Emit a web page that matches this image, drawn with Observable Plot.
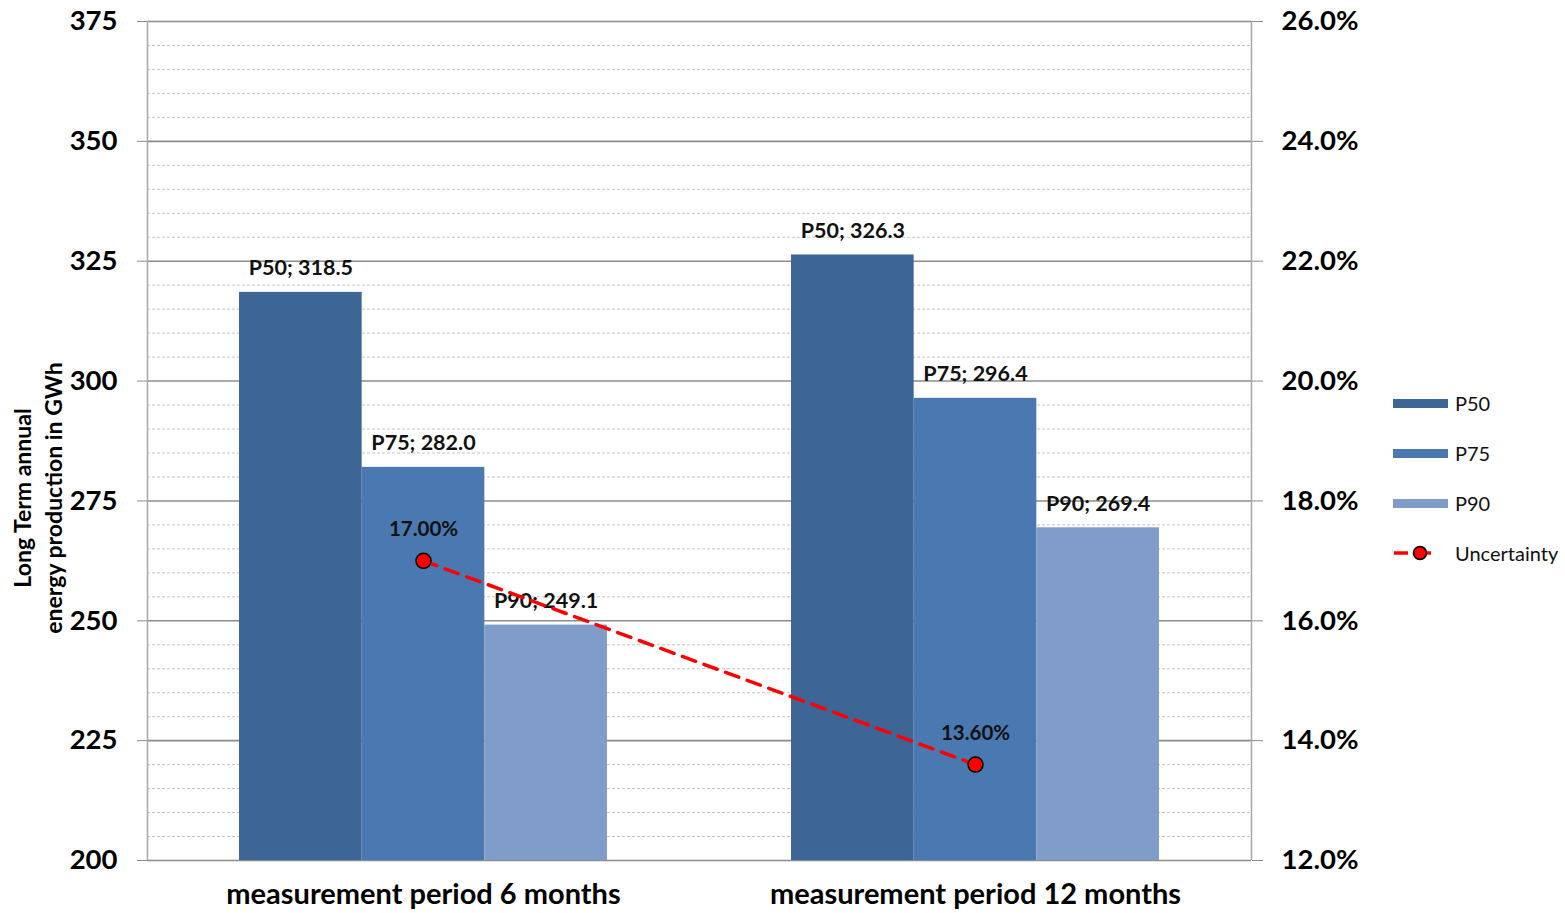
<!DOCTYPE html>
<html>
<head>
<meta charset="utf-8">
<script src="https://cdn.jsdelivr.net/npm/d3@7"></script>
<script src="https://cdn.jsdelivr.net/npm/@observablehq/plot@0.6"></script>
<style>
  body { margin: 0; background: #fff; font-family: Lato, "Open Sans", sans-serif; }
  #wrap { position: relative; width: 1565px; height: 913px; overflow: hidden; }
  #legend { position: absolute; left: 1393px; top: 378px; font-size: 20px; color: #111; }
  #legend .row { display: flex; align-items: center; height: 50px; }
  #legend .row span { margin-left: 7px; }
</style>
</head>
<body>
<div id="wrap"><div id="legend"></div></div>
<script>
// Long-term annual energy production (GWh) per measurement period
const periods = ["measurement period 6 months", "measurement period 12 months"];
const series = ["P50", "P75", "P90"];
const p50 = [318.5, 326.3];
const p75 = [282.0, 296.4];
const p90 = [249.1, 269.4];
// Uncertainty of the estimate, in percent (right axis)
const uncertainty = [17.00, 13.60];

const energyTicks = [200, 225, 250, 275, 300, 325, 350, 375];
const percentTicks = [12, 14, 16, 18, 20, 22, 24, 26];
const seriesColors = ["#3D6596", "#4A79B1", "#7F9DC8"];

// Right-axis percentages share the left y scale through this linear map
const pct = d3.scaleLinear([12, 26], [200, 375]);

const values = [p50, p75, p90];
const barWidth = 0.2222; // share of one period slot taken by each bar
const bars = [];
periods.forEach((p, i) => {
  series.forEach((s, j) => {
    const x1 = i + 0.5 + (j - 1.5) * barWidth;
    bars.push({period: p, series: s, value: values[j][i], x1, x2: x1 + barWidth, xc: x1 + barWidth / 2});
  });
});
const unc = periods.map((p, i) => ({period: p, x: i + 0.5, u: uncertainty[i]}));

const minorTicks = d3.range(205, 375, 5).filter(v => v % 25 !== 0);

const chart = Plot.plot({
  width: 1565,
  height: 913,
  marginLeft: 147,
  marginRight: 314,
  marginTop: 21,
  marginBottom: 53,
  style: {fontFamily: "Lato, 'Open Sans', sans-serif", color: "#000", background: "#fff"},
  x: {domain: [0, 2], axis: null},
  y: {domain: [200, 375], axis: null},
  marks: [
    Plot.ruleY(minorTicks, {stroke: "#c4c4c4", strokeWidth: 1, strokeDasharray: "3,2"}),
    Plot.ruleY(energyTicks, {stroke: "#8c8c8c", strokeWidth: 1.6}),
    Plot.ruleX([0, 2], {stroke: "#a8a8a8", strokeWidth: 1.5}),
    Plot.rect(bars, {x1: "x1", x2: "x2", y1: () => 200, y2: "value", fill: d => seriesColors[series.indexOf(d.series)]}),
    Plot.axisY(energyTicks, {
      anchor: "left", label: null, tickSize: 10, tickPadding: 20, stroke: "#8c8c8c",
      fontSize: 27.5, fontWeight: "bold", tickFormat: d => d
    }),
    Plot.axisY(percentTicks.map(pct), {
      anchor: "right", label: null, tickSize: 11, tickPadding: 19, stroke: "#8c8c8c",
      fontSize: 27.5, fontWeight: "bold", tickFormat: v => pct.invert(v).toFixed(1) + "%"
    }),
    Plot.axisX([0.5, 1.5], {
      anchor: "bottom", label: null, tickSize: 0, tickPadding: 23,
      fontSize: 29, fontWeight: "bold", tickFormat: v => periods[Math.floor(v)]
    }),
    Plot.text(["Long Term annual\nenergy production in GWh"], {
      frameAnchor: "left", dx: -139, dy: 57, rotate: -90, lineAnchor: "top",
      fontSize: 23, fontWeight: "bold", lineHeight: 1.35, textAnchor: "middle"
    }),
    Plot.text(bars, {
      x: "xc", y: "value", text: d => `${d.series}; ${d.value.toFixed(1)}`,
      dy: -24, fontSize: 21.5, fontWeight: "bold", fill: "#111"
    }),
    Plot.line(unc, {x: "x", y: d => pct(d.u), stroke: "#ff0000", strokeWidth: 3.5, strokeDasharray: "14,9"}),
    Plot.dot(unc, {x: "x", y: d => pct(d.u), r: 7.5, fill: "#ff0000", stroke: "#000", strokeWidth: 1.5}),
    Plot.text(unc, {
      x: "x", y: d => pct(d.u), text: d => d.u.toFixed(2) + "%",
      dy: -31, fontSize: 20.5, fontWeight: "bold", fill: "#111"
    })
  ]
});
document.getElementById("wrap").prepend(chart);
chart.style.position = "absolute";
chart.style.left = "0";
chart.style.top = "0";

// Legend: three bar swatches plus the uncertainty line with its marker
const legend = d3.select("#legend");
series.forEach((s, j) => {
  const row = legend.append("div").attr("class", "row");
  row.append("div").style("width", "55px").style("height", "9px").style("background", seriesColors[j]);
  row.append("span").text(s);
});
const row = legend.append("div").attr("class", "row");
const sw = row.append("svg").attr("width", 55).attr("height", 20).style("margin-left", "-2px");
sw.append("line").attr("x1", 1).attr("x2", 46).attr("y1", 10).attr("y2", 10)
  .attr("stroke", "#ff0000").attr("stroke-width", 3.5).attr("stroke-dasharray", "14,9").attr("stroke-dashoffset", -2);
sw.append("circle").attr("cx", 29).attr("cy", 10).attr("r", 6.5)
  .attr("fill", "#ff0000").attr("stroke", "#000").attr("stroke-width", 1.5);
row.append("span").style("margin-left", "9px").text("Uncertainty");
</script>
</body>
</html>
